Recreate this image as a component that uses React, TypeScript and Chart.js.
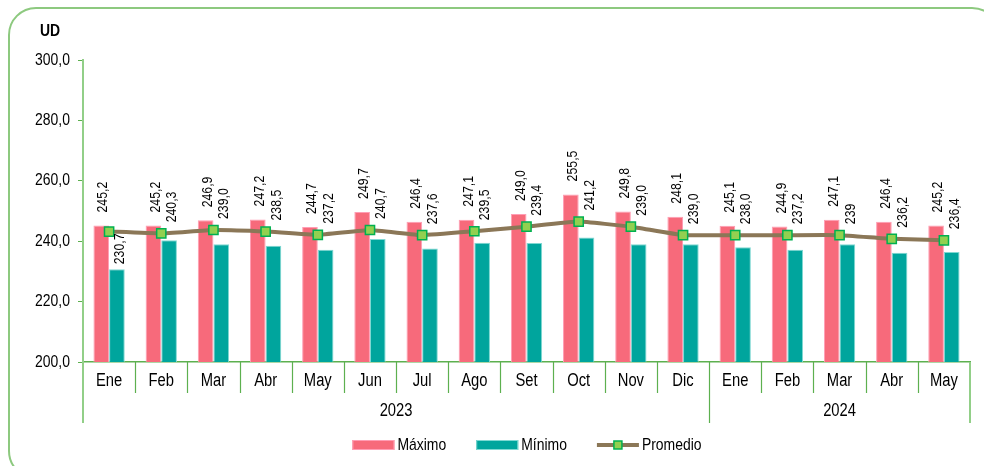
import React, { useEffect, useRef } from "react";
import { Chart, registerables } from "chart.js";

Chart.register(...registerables);

const meses = ["Ene", "Feb", "Mar", "Abr", "May", "Jun", "Jul", "Ago", "Set", "Oct", "Nov", "Dic", "Ene", "Feb", "Mar", "Abr", "May"];
const anios = ["2023", "2024"];
const mesesPorAnio = [12, 5];

const maximo = [245.2, 245.2, 246.9, 247.2, 244.7, 249.7, 246.4, 247.1, 249.0, 255.5, 249.8, 248.1, 245.1, 244.9, 247.1, 246.4, 245.2];
const minimo = [230.7, 240.3, 239.0, 238.5, 237.2, 240.7, 237.6, 239.5, 239.4, 241.2, 239.0, 239.0, 238.0, 237.2, 239.0, 236.2, 236.4];
const promedio = [243.2, 242.6, 243.7, 243.2, 242.1, 243.7, 242.0, 243.3, 244.8, 246.5, 244.8, 242.0, 242.0, 242.0, 242.0, 240.8, 240.3];

const etiquetasMaximo = ["245,2", "245,2", "246,9", "247,2", "244,7", "249,7", "246,4", "247,1", "249,0", "255,5", "249,8", "248,1", "245,1", "244,9", "247,1", "246,4", "245,2"];
const etiquetasMinimo = ["230,7", "240,3", "239,0", "238,5", "237,2", "240,7", "237,6", "239,5", "239,4", "241,2", "239,0", "239,0", "238,0", "237,2", "239", "236,2", "236,4"];

const yMin = 200;
const yMax = 300;
const yStep = 20;
const unidad = "UD";

const FONT = "'Liberation Sans', Arial, sans-serif";
const NARROW = 0.82;
const COL_MAX = "#F76A7B";
const COL_MAX_B = "#FF9DB4";
const COL_MIN = "#00A59D";
const COL_MIN_B = "#7FD8D2";
const COL_LINE = "#8B7757";
const COL_PT = "#92D050";
const COL_PT_B = "#00B050";
const AXIS_GREEN = "#5DB04F";
const AXIS_LIGHT = "#92CF88";

function narrowText(ctx: any, txt: string, x: number, y: number, size: number, align: string, opts: { bold?: boolean; rotate?: boolean } = {}) {
  ctx.save();
  ctx.font = `${opts.bold ? "bold " : ""}${size}px ${FONT}`;
  ctx.textAlign = align;
  ctx.textBaseline = "middle";
  ctx.fillStyle = "#000";
  ctx.translate(x, y);
  if (opts.rotate) ctx.rotate(-Math.PI / 2);
  ctx.scale(NARROW, 1);
  ctx.fillText(txt, 0, 0);
  ctx.restore();
}

function narrowWidth(ctx: any, txt: string, size: number) {
  ctx.save();
  ctx.font = `${size}px ${FONT}`;
  const w = ctx.measureText(txt).width * NARROW;
  ctx.restore();
  return w;
}

const decor = {
  id: "decor",
  afterDraw(chart: any) {
    const { ctx, chartArea, scales } = chart;
    const x = scales.x;
    const y = scales.y;
    const n = meses.length;
    const half = (x.getPixelForValue(1) - x.getPixelForValue(0)) / 2;
    ctx.save();

    // y tick labels
    y.ticks.forEach((t: any) => {
      narrowText(ctx, Number(t.value).toFixed(1).replace(".", ","), chartArea.left - 13, y.getPixelForValue(t.value), 17, "right");
    });

    // month labels
    meses.forEach((m, i) => {
      narrowText(ctx, m, x.getPixelForValue(i), chartArea.bottom + 19, 18, "center");
    });

    // separators below the axis
    ctx.lineWidth = 1.2;
    ctx.strokeStyle = AXIS_GREEN;
    const yearBounds: number[] = [];
    let acc = 0;
    mesesPorAnio.forEach((c) => {
      acc += c;
      yearBounds.push(acc);
    });
    for (let i = 1; i < n; i++) {
      const bx = Math.round(x.getPixelForValue(i) - half) + 0.5;
      const long = yearBounds.includes(i);
      ctx.beginPath();
      ctx.moveTo(bx, chartArea.bottom);
      ctx.lineTo(bx, chartArea.bottom + (long ? 61 : 31));
      ctx.stroke();
    }
    ctx.strokeStyle = AXIS_LIGHT;
    ctx.lineWidth = 2;
    ctx.beginPath();
    ctx.moveTo(chartArea.left, chartArea.bottom);
    ctx.lineTo(chartArea.left, chartArea.bottom + 61);
    ctx.stroke();
    ctx.beginPath();
    ctx.moveTo(chartArea.right, chartArea.bottom);
    ctx.lineTo(chartArea.right, chartArea.bottom + 61);
    ctx.stroke();

    // year labels
    let start = 0;
    anios.forEach((a, k) => {
      const end = start + mesesPorAnio[k] - 1;
      const x0 = x.getPixelForValue(start) - half;
      const x1 = x.getPixelForValue(end) + half;
      narrowText(ctx, a, (x0 + x1) / 2, chartArea.bottom + 49, 18, "center");
      start = end + 1;
    });

    // data labels
    const metaMax = chart.getDatasetMeta(0);
    const metaMin = chart.getDatasetMeta(1);
    const metaLine = chart.getDatasetMeta(2);
    metaMax.data.forEach((el: any, i: number) => {
      narrowText(ctx, etiquetasMaximo[i], el.x + 2, el.y - 13, 15, "left", { rotate: true });
    });
    metaMin.data.forEach((el: any, i: number) => {
      const ly = metaLine.data[i].y;
      const bottom = el.y - ly > 25 ? el.y - 5 : ly - 11;
      narrowText(ctx, etiquetasMinimo[i], el.x + 3, bottom, 15, "left", { rotate: true });
    });

    // unit label
    narrowText(ctx, unidad, 40, 31, 17, "left", { bold: true });

    // legend
    const sym = 42;
    const gapT = 3;
    const gapI = 30;
    const ds = chart.data.datasets;
    const widths = ds.map((d: any) => sym + gapT + narrowWidth(ctx, d.label, 17));
    const total = widths.reduce((a: number, b: number) => a + b, 0) + gapI * (ds.length - 1);
    let lx = 527 - total / 2;
    const ly = 445;
    ds.forEach((d: any, i: number) => {
      if (d.type === "line") {
        ctx.strokeStyle = d.borderColor;
        ctx.lineWidth = 4;
        ctx.beginPath();
        ctx.moveTo(lx, ly);
        ctx.lineTo(lx + sym, ly);
        ctx.stroke();
        ctx.fillStyle = d.pointBackgroundColor;
        ctx.strokeStyle = d.pointBorderColor;
        ctx.lineWidth = 1.5;
        ctx.fillRect(lx + sym / 2 - 4, ly - 4, 8, 8);
        ctx.strokeRect(lx + sym / 2 - 4, ly - 4, 8, 8);
      } else {
        ctx.fillStyle = d.backgroundColor;
        ctx.fillRect(lx, ly - 5, sym, 10);
        ctx.strokeStyle = d.borderColor;
        ctx.lineWidth = 1;
        ctx.strokeRect(lx + 0.5, ly - 4.5, sym - 1, 9);
      }
      narrowText(ctx, d.label, lx + sym + gapT, ly, 17, "left");
      lx += widths[i] + gapI;
    });

    ctx.restore();
  },
};

export default function App() {
  const ref = useRef<HTMLCanvasElement>(null);
  useEffect(() => {
    if (!ref.current) return;
    const chart = new Chart(ref.current, {
      type: "bar",
      data: {
        labels: meses,
        datasets: [
          {
            type: "bar",
            label: "Máximo",
            data: maximo,
            backgroundColor: COL_MAX,
            borderColor: COL_MAX_B,
            borderWidth: 1,
            categoryPercentage: 0.6,
            barPercentage: 1,
            order: 2,
          } as any,
          {
            type: "bar",
            label: "Mínimo",
            data: minimo,
            backgroundColor: COL_MIN,
            borderColor: COL_MIN_B,
            borderWidth: 1,
            categoryPercentage: 0.6,
            barPercentage: 1,
            order: 2,
          } as any,
          {
            type: "line",
            label: "Promedio",
            data: promedio,
            borderColor: COL_LINE,
            borderWidth: 4,
            tension: 0.1,
            pointStyle: "rect",
            pointRadius: 6.5,
            pointBackgroundColor: COL_PT,
            pointBorderColor: COL_PT_B,
            pointBorderWidth: 1.5,
            order: 0,
          } as any,
        ],
      },
      options: {
        animation: false,
        responsive: false,
        maintainAspectRatio: false,
        events: [],
        layout: { padding: { left: 0, right: 14, top: 60, bottom: 0 } },
        plugins: {
          legend: { display: false },
          tooltip: { enabled: false },
          title: { display: false },
        },
        scales: {
          x: {
            afterFit: (s: any) => {
              s.height = 104;
            },
            grid: { display: true, drawOnChartArea: false, drawTicks: false },
            border: { display: true, color: AXIS_GREEN, width: 1.5 },
            ticks: { display: false, autoSkip: false },
          },
          y: {
            min: yMin,
            max: yMax,
            afterFit: (s: any) => {
              s.width = 83;
            },
            grid: { drawOnChartArea: false, drawTicks: true, tickLength: 5, color: AXIS_GREEN },
            border: { display: true, color: AXIS_LIGHT, width: 2 },
            ticks: { display: false, stepSize: yStep },
          },
        },
      },
      plugins: [decor],
    });
    return () => chart.destroy();
  }, []);

  return (
    <div style={{ position: "absolute", left: 0, top: 0, width: 984, height: 466, overflow: "hidden", background: "#fff" }}>
      <div
        style={{
          position: "absolute",
          left: 8,
          top: 7,
          width: 992,
          height: 472,
          border: "2px solid #8DC97F",
          borderRadius: 28,
          boxSizing: "border-box",
        }}
      />
      <canvas ref={ref} width={984} height={466} style={{ position: "absolute", left: 0, top: 0, width: 984, height: 466 }} />
    </div>
  );
}
